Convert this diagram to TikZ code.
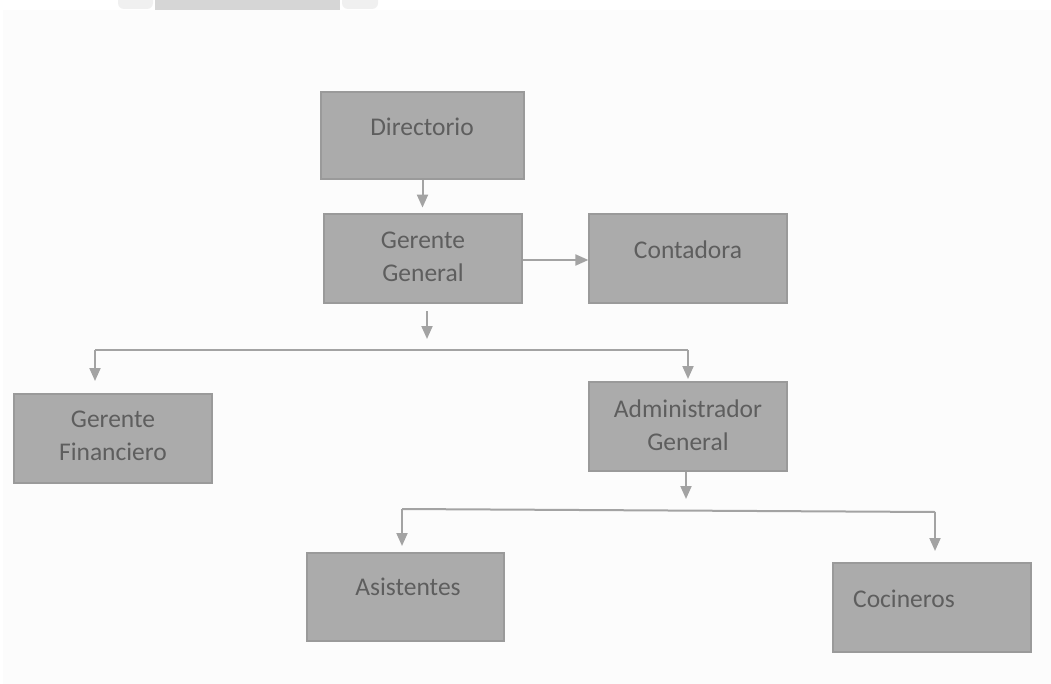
\documentclass[tikz,border=0pt]{standalone}
\usepackage{fontspec}
\setmainfont{Carlito}
\usetikzlibrary{arrows.meta,calc}
\definecolor{boxfill}{HTML}{ABABAB}
\definecolor{boxline}{HTML}{9A9A9A}
\definecolor{txtcol}{HTML}{5E5E5E}
\definecolor{arrcol}{HTML}{A3A3A3}
\definecolor{bgcol}{HTML}{FCFCFC}
\definecolor{barcol}{HTML}{D6D6D6}
\tikzset{
  orgbox/.style={draw=boxline, line width=1.2pt, fill=boxfill, rectangle, inner sep=0pt, minimum width=198pt, minimum height=89pt},
  orgtxt/.style={text=txtcol, font=\fontsize{25.5}{33}\selectfont, align=center, inner sep=0pt},
  conn/.style={draw=arrcol, line width=2pt},
  arr/.style={conn, -{Triangle[length=13pt,width=11pt]}}
}
\begin{document}
\begin{tikzpicture}[x=1pt,y=-1pt]
\useasboundingbox (0,0) rectangle (1051,684);
\fill[white] (0,0) rectangle (1051,684);
\fill[bgcol] (3,10) rectangle (1051,684);
\fill[barcol] (155,0) rectangle (340,10);
\fill[gray!12, rounded corners=6pt] (118,-8) rectangle (153,9);
\fill[gray!12, rounded corners=6pt] (342,-8) rectangle (378,9);

% boxes
\node[orgbox, minimum width=203pt, minimum height=87pt] (dir) at (422.5,135.5) {};
\node[orgbox] (gg) at (423,258.5) {};
\node[orgbox] (cont) at (688,258.5) {};
\node[orgbox] (gf) at (113,438.5) {};
\node[orgbox] (ag) at (688,426.5) {};
\node[orgbox, minimum width=197pt, minimum height=88pt] (asis) at (405.5,597) {};
\node[orgbox] (coc) at (932,607.5) {};

% texts
\node[orgtxt] (tdir) at (422,127) {Directorio};
\node[orgtxt] (tgg) at (423,257) {Gerente\\General};
\node[orgtxt] (tcont) at (688,250) {Contadora};
\node[orgtxt] (tgf) at (113,435.5) {Gerente\\Financiero};
\node[orgtxt] (tag) at (688,425.5) {Administrador\\General};
\node[orgtxt] (tasis) at (408,587) {Asistentes};
\node[orgtxt] (tcoc) at (904,599) {Cocineros};

% connectors
\coordinate (d1) at ($(dir.south)+(0,28)$);
\draw[arr] (dir.south) -- (d1);
\draw[arr] (gg.east |- 0,260) -- (cont.west |- 0,260);

\coordinate (g1) at (427,311);
\coordinate (g2) at (427,339);
\draw[arr] (g1) -- (g2);
\coordinate (hl) at (95,350);
\coordinate (hr) at (688,350);
\coordinate (gfa) at (95,381);
\coordinate (aga) at (688,379);
\draw[conn] (hl) -- (hr);
\draw[arr] (hl) -- (gfa);
\draw[arr] (hr) -- (aga);

\coordinate (a1) at (686,472);
\coordinate (a2) at (686,499);
\draw[arr] (a1) -- (a2);
\coordinate (ll) at (402,509);
\coordinate (lr) at (935,512);
\coordinate (asa) at (402,546);
\coordinate (coa) at (935,551);
\draw[conn] (ll) -- (lr);
\draw[arr] (ll) -- (asa);
\draw[arr] (lr) -- (coa);
\end{tikzpicture}
\end{document}
